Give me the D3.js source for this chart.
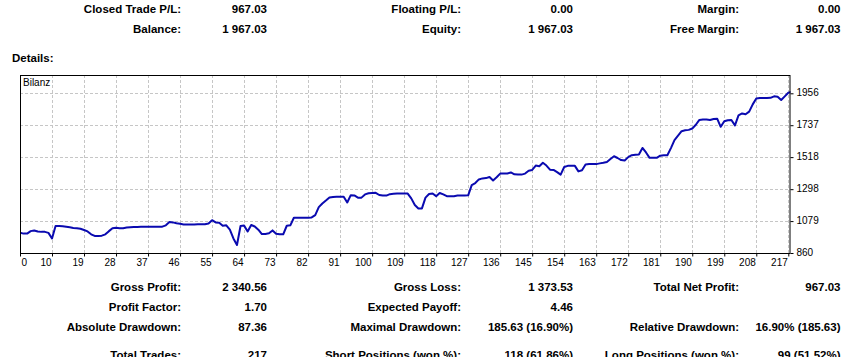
<!DOCTYPE html>
<html>
<head>
<meta charset="utf-8">
<script src="https://cdn.jsdelivr.net/npm/d3@7"></script>
<style>
  html, body { margin: 0; padding: 0; background: #fff; }
  svg { display: block; }
  .stat { font-family: "Liberation Sans", Arial, sans-serif; font-size: 11.5px; font-weight: bold; fill: #000; }
  .axis text, .legend { font-family: "Liberation Sans Narrow", "Arial Narrow", "Liberation Sans", Arial, sans-serif; font-size: 10px; fill: #000; }
</style>
</head>
<body>
<svg id="chart" width="851" height="357"></svg>
<script>
// ---- Data ----
const seriesName = "Bilanz";
// balance after each trade (index 0 = starting balance)
const balance = [
  1000, 993, 993, 1010, 1015, 1008, 1005, 1005, 998, 960,
  1046, 1046, 1044, 1040, 1036, 1032, 1030, 1026, 1018, 1008,
  988, 977, 976, 979, 988, 1010, 1030, 1034, 1030, 1030,
  1035, 1037, 1038, 1039, 1040, 1041, 1041, 1041, 1040, 1040,
  1041, 1050, 1072, 1070, 1064, 1060, 1056, 1056, 1056, 1056,
  1057, 1058, 1058, 1062, 1085, 1070, 1068, 1047, 1050, 1020,
  960, 915, 1045, 1048, 1008, 1052, 1042, 1020, 990, 990,
  995, 1015, 992, 988, 988, 1047, 1050, 1102, 1102, 1102,
  1102, 1102, 1104, 1120, 1175, 1200, 1220, 1241, 1245, 1246,
  1246, 1246, 1207, 1257, 1255, 1240, 1240, 1262, 1270, 1272,
  1273, 1258, 1254, 1254, 1264, 1266, 1268, 1269, 1269, 1268,
  1235, 1190, 1166, 1166, 1240, 1265, 1268, 1250, 1272, 1262,
  1250, 1250, 1250, 1254, 1254, 1254, 1256, 1326, 1340, 1365,
  1372, 1374, 1382, 1358, 1380, 1405, 1405, 1406, 1413, 1400,
  1398, 1398, 1405, 1425, 1430, 1460, 1455, 1479, 1460, 1432,
  1430, 1415, 1398, 1450, 1458, 1458, 1458, 1420, 1428, 1468,
  1470, 1470, 1470, 1475, 1479, 1485, 1505, 1524, 1512, 1498,
  1495, 1518, 1531, 1534, 1536, 1581, 1550, 1513, 1513, 1513,
  1528, 1531, 1531, 1580, 1635, 1665, 1696, 1702, 1705, 1714,
  1740, 1773, 1776, 1776, 1773, 1780, 1782, 1726, 1764, 1771,
  1773, 1736, 1805, 1818, 1812, 1830, 1880, 1920, 1924, 1924,
  1924, 1925, 1935, 1932, 1910, 1935, 1960, 1967.03
];
const xTickIndex = [0, 9, 18, 27, 36, 45, 54, 63, 72, 81, 90, 99, 108, 117, 126, 135, 144, 153, 162, 171, 180, 189, 198, 207, 216];
const xTickLabels = ["0", "10", "19", "28", "37", "46", "55", "64", "73", "82", "91", "100", "109", "118", "127", "136", "145", "154", "163", "172", "181", "190", "199", "208", "217"];
const yTickValues = [860, 1079, 1298, 1518, 1737, 1956];

const headerRows = [
  ["Closed Trade P/L:", "967.03", "Floating P/L:", "0.00", "Margin:", "0.00"],
  ["Balance:", "1 967.03", "Equity:", "1 967.03", "Free Margin:", "1 967.03"]
];
const footerRows = [
  ["Gross Profit:", "2 340.56", "Gross Loss:", "1 373.53", "Total Net Profit:", "967.03"],
  ["Profit Factor:", "1.70", "Expected Payoff:", "4.46", "", ""],
  ["Absolute Drawdown:", "87.36", "Maximal Drawdown:", "185.63 (16.90%)", "Relative Drawdown:", "16.90% (185.63)"],
  ["Total Trades:", "217", "Short Positions (won %):", "118 (61.86%)", "Long Positions (won %):", "99 (51.52%)"]
];
const detailsLabel = "Details:";

// ---- Layout ----
const svg = d3.select("#chart");
const frame = { left: 20, right: 790.5, top: 75, bottom: 253 };
const colRight = [181, 267, 461, 573, 739, 840.5];

const x = d3.scaleLinear().domain([0, 216]).range([frame.left, 788.3]);
const y = d3.scaleLinear().domain([860, 1956]).range([frame.bottom, 93.3]);

// ---- Stats text ----
function drawRows(rows, yPositions) {
  rows.forEach((row, r) => {
    row.forEach((t, c) => {
      if (!t) return;
      svg.append("text").attr("class", "stat")
        .attr("x", colRight[c]).attr("y", yPositions[r])
        .attr("text-anchor", "end").text(t);
    });
  });
}
drawRows(headerRows, [13, 33]);
drawRows(footerRows, [291, 311, 331, 359]);
svg.append("text").attr("class", "stat").attr("x", 12).attr("y", 62).text(detailsLabel);

// ---- Chart ----
const g = svg.append("g");
g.append("rect").attr("x", frame.left).attr("y", frame.top)
  .attr("width", frame.right - frame.left).attr("height", frame.bottom - frame.top)
  .attr("fill", "#fff");

// grid
g.selectAll("line.hgrid").data(yTickValues.slice(1)).enter().append("line")
  .attr("class", "hgrid")
  .attr("x1", frame.left).attr("x2", frame.right)
  .attr("y1", d => Math.round(y(d)) + 0.5).attr("y2", d => Math.round(y(d)) + 0.5)
  .attr("stroke", "#c6c6c6").attr("stroke-dasharray", "3,2");
g.selectAll("line.vgrid").data(xTickIndex.slice(1)).enter().append("line")
  .attr("class", "vgrid")
  .attr("x1", d => Math.round(x(d)) + 0.5).attr("x2", d => Math.round(x(d)) + 0.5)
  .attr("y1", frame.top).attr("y2", frame.bottom)
  .attr("stroke", "#c6c6c6").attr("stroke-dasharray", "3,2");

// line
svg.append("clipPath").attr("id", "clip").append("rect")
  .attr("x", frame.left).attr("y", frame.top)
  .attr("width", frame.right - frame.left).attr("height", frame.bottom - frame.top);
g.append("path").datum(balance)
  .attr("clip-path", "url(#clip)")
  .attr("fill", "none").attr("stroke", "#0a0ab0").attr("stroke-width", 2)
  .attr("stroke-linejoin", "round")
  .attr("d", d3.line().x((d, i) => x(i)).y(d => y(d)));

// frame border
g.append("rect").attr("x", frame.left + 0.5).attr("y", frame.top + 0.5)
  .attr("width", frame.right - frame.left - 1).attr("height", frame.bottom - frame.top)
  .attr("fill", "none").attr("stroke", "#000").attr("stroke-width", 1);

// legend
g.append("text").attr("class", "legend").attr("x", 23).attr("y", 86).text(seriesName);

// x axis
const xAxis = d3.axisBottom(x).tickValues(xTickIndex)
  .tickFormat((d, i) => xTickLabels[i]).tickSize(3).tickPadding(2);
const xg = g.append("g").attr("class", "axis")
  .attr("transform", `translate(0,${frame.bottom + 0.5})`).call(xAxis);
xg.select(".domain").remove();
xg.selectAll(".tick line").attr("stroke", "#000");
xg.selectAll(".tick text")
  .attr("text-anchor", (d, i) => i === 0 ? "start" : "end")
  .attr("dx", (d, i) => i === 0 ? 1 : -1);

// y axis
const yAxis = d3.axisRight(y).tickValues(yTickValues).tickFormat(d3.format("d"))
  .tickSize(3).tickPadding(3);
const yg = g.append("g").attr("class", "axis")
  .attr("transform", `translate(${frame.right},0)`).call(yAxis);
yg.select(".domain").remove();
yg.selectAll(".tick line").attr("stroke", "#000");
yg.selectAll(".tick text").attr("dy", "0.2em");
</script>
</body>
</html>
